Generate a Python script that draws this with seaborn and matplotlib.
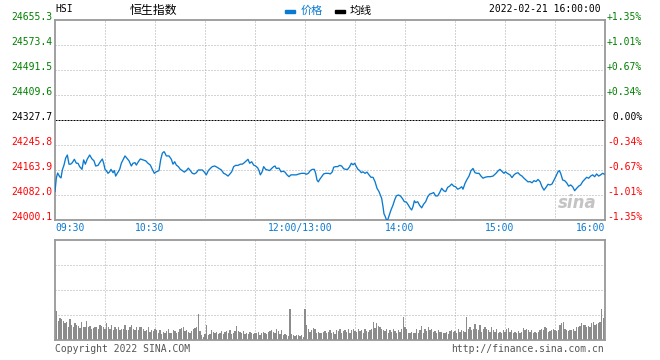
import numpy as np
import pandas as pd
import matplotlib
matplotlib.use("Agg")
import matplotlib.pyplot as plt
import matplotlib.transforms as mtransforms
from matplotlib.patches import Rectangle
import seaborn as sns

# y-axis levels (price) and the matching percent labels
price_levels = [24000.1, 24082.0, 24163.9, 24245.8, 24327.7, 24409.6, 24491.5, 24573.4, 24655.3]
pct_labels = ["-1.35%", "-1.01%", "-0.67%", "-0.34%", " 0.00%", "+0.34%", "+0.67%", "+1.01%", "+1.35%"]
prev_close = 24327.7

# trading minutes since 09:30 (lunch break removed)
time_ticks = [0, 60, 150, 210, 270, 330]
time_labels = ["09:30", "10:30", "12:00/13:00", "14:00", "15:00", "16:00"]

# intraday price
minutes = [
    0.0, 0.8, 1.6, 2.8, 3.6, 4.4, 5.4, 6.4, 7.4, 8.4, 9.4, 10.4, 11.6, 12.8, 13.8, 14.8,
    16.2, 17.2, 18.2, 19.4, 20.8, 22.2, 23.4, 24.4, 25.8, 27.2, 28.4, 29.2, 30.0, 30.8,
    31.8, 32.8, 33.6, 34.8, 35.6, 36.4, 37.6, 38.8, 39.8, 40.8, 42.0, 43.2, 44.4, 45.8,
    46.8, 48.0, 48.8, 50.0, 51.2, 52.8, 54.4, 55.8, 57.2, 58.4, 59.6, 60.8, 62.4, 63.4,
    64.4, 65.4,
    65.8, 66.8, 68.4, 69.8, 70.8, 71.8, 72.8, 74.0, 75.2, 76.4, 77.6, 78.8, 80.0, 81.2,
    82.4, 83.6, 84.8, 86.0, 87.2, 88.4, 89.6, 90.8, 92.0, 93.2, 94.4, 95.8, 97.2, 98.4,
    99.8, 101.2, 102.4, 103.8, 104.8, 106.0, 107.2, 108.4, 109.8, 111.2, 112.4, 113.6,
    114.8, 115.8, 116.8, 118.0, 119.2, 120.4, 121.6, 122.4, 123.2, 124.2, 125.2, 126.4,
    127.6, 128.8, 130.0, 131.2,
    132.0, 132.8, 134.4, 135.6, 136.8, 138.0, 139.2, 140.4, 141.6, 143.2, 144.8, 146.4,
    148.0, 149.6, 150.8, 152.0, 153.2, 154.4, 155.6, 156.4, 157.2, 158.0, 158.8, 160.0,
    161.2, 162.4, 164.0, 165.2, 166.4, 167.2, 168.4, 169.6, 170.8, 172.0, 173.2, 174.4,
    175.6, 176.8, 177.8, 178.8, 179.8, 180.8, 181.8, 182.8, 183.8, 184.8, 186.0, 187.2,
    188.4, 189.6, 190.8, 192.0, 193.2, 194.4, 195.2, 196.0, 196.8, 197.4,
    197.8, 198.8, 199.6, 200.4, 201.6, 202.8, 203.8, 204.8, 206.0, 207.2, 208.4, 209.6,
    210.8, 212.0, 213.2, 214.0, 214.8, 215.6, 216.4, 217.6, 218.8, 220.0, 221.2, 222.4,
    223.6, 224.8, 226.0, 227.2, 228.4, 229.6, 230.8, 232.0, 233.2, 234.4, 235.6, 236.8,
    238.0, 239.2, 240.4, 241.6, 242.8, 244.0, 244.8, 246.0, 247.2, 248.4, 249.6, 250.8,
    252.0, 253.2, 254.4, 255.6, 256.8, 258.0, 259.6, 261.2, 262.8,
    264.6, 266.0, 267.0, 268.4, 269.4, 270.2, 271.4, 273.0, 274.2, 275.4, 276.6, 277.8,
    279.0, 280.2, 281.4, 282.6, 283.8, 285.0, 286.2, 287.4, 288.6, 289.8, 291.0, 292.2,
    293.4, 294.6, 295.8, 297.0, 298.2, 299.4, 300.6, 301.8, 302.6, 303.4, 304.6, 305.8,
    307.0, 308.2, 309.4, 310.6, 311.8, 313.0, 314.2, 315.4, 316.6, 317.8, 319.0, 320.2,
    321.4, 322.6, 323.8, 325.0, 326.2, 327.4, 328.6, 329.6,
]
price = [
    24093, 24138, 24154, 24142, 24138, 24164, 24180, 24203, 24213, 24183, 24183, 24188,
    24199, 24186, 24186, 24175, 24166, 24197, 24183, 24200, 24213, 24200, 24194, 24177,
    24179, 24191, 24200, 24186, 24166, 24162, 24153, 24158, 24166, 24155, 24162, 24144,
    24155, 24166, 24186, 24197, 24210, 24202, 24194, 24177, 24186, 24188, 24180, 24191,
    24200, 24197, 24194, 24186, 24180, 24166, 24153, 24158, 24162, 24197, 24219, 24224,
    24221, 24210, 24210, 24199, 24183, 24191, 24180, 24175, 24166, 24162, 24157, 24162,
    24170, 24162, 24153, 24151, 24155, 24164, 24164, 24164, 24157, 24148, 24162, 24169,
    24175, 24177, 24173, 24169, 24164, 24153, 24150, 24144, 24150, 24158, 24175, 24179,
    24179, 24183, 24183, 24188, 24194, 24199, 24186, 24191, 24180, 24177, 24171, 24162,
    24148, 24157, 24175, 24166, 24164, 24162, 24169, 24175,
    24177, 24169, 24170, 24158, 24160, 24157, 24148, 24142, 24148, 24148, 24148, 24151,
    24153, 24153, 24150, 24153, 24162, 24166, 24166, 24153, 24131, 24125, 24133, 24142,
    24151, 24153, 24153, 24151, 24158, 24173, 24175, 24175, 24179, 24177, 24168, 24166,
    24166, 24175, 24186, 24181, 24186, 24175, 24166, 24162, 24155, 24158, 24153, 24157,
    24148, 24140, 24140, 24126, 24104, 24093, 24082, 24071, 24044, 24020,
    24016, 24002, 24000, 24013, 24033, 24049, 24066, 24079, 24082, 24079, 24071, 24060,
    24059, 24049, 24038, 24033, 24044, 24063, 24057, 24060, 24048, 24040, 24052, 24060,
    24076, 24085, 24087, 24090, 24079, 24079, 24090, 24104, 24096, 24093, 24107, 24111,
    24118, 24111, 24109, 24101, 24104, 24109, 24101, 24120, 24133, 24144, 24162, 24169,
    24155, 24153, 24153, 24144, 24137, 24140, 24142, 24142, 24144,
    24153, 24162, 24166, 24158, 24153, 24158, 24153, 24148, 24139, 24148, 24153, 24155,
    24148, 24144, 24137, 24131, 24125, 24126, 24122, 24129, 24126, 24133, 24126, 24109,
    24098, 24107, 24117, 24115, 24118, 24131, 24144, 24158, 24162, 24153, 24131, 24129,
    24122, 24111, 24115, 24109, 24096, 24104, 24111, 24115, 24126, 24133, 24140, 24137,
    24144, 24148, 24142, 24151, 24144, 24148, 24153, 24150,
]

# per-minute volume (relative units, panel top = 100)
vol_am = [
    30, 29, 19, 22, 21, 19, 17, 18, 13, 21, 15, 13, 17, 15, 14, 12, 18, 13, 13, 19,
    13, 14, 11, 12, 13, 13, 11, 15, 14, 13, 11, 17, 13, 11, 15, 10, 13, 11, 13, 10,
    11, 11, 15, 10, 10, 13, 15, 11, 10, 13, 10, 13, 13, 11, 9, 10, 13, 8, 10, 9,
    11, 10, 7, 10, 6, 8, 7, 9, 11, 7, 7, 10, 9, 7, 8, 11, 12, 13, 9, 10,
    8, 7, 9, 11, 12, 13, 26, 9, 5, 3, 6, 15,
    5, 6, 10, 8, 7, 8, 6, 7, 9, 6, 8, 9, 7, 10, 6, 7, 9, 14,
    9, 8, 7, 9, 6, 7, 6, 8, 7, 6, 7, 7, 8, 5, 7, 8, 7, 6, 8, 9,
    10, 8, 7, 11, 9, 6, 10, 5, 6, 5, 4, 31, 6, 5, 4, 5, 5, 4, 5, 3, 31,
]
vol_pm = [
    15, 11, 8, 10, 12, 11, 7, 8, 7, 7, 8, 9, 7, 8, 10, 7, 8, 6, 10, 9,
    11, 7, 9, 10, 8, 11, 7, 10, 11, 9, 8, 11, 9, 10, 7, 11, 9, 8, 10, 11,
    18, 12, 17, 14, 13, 11, 10, 9, 11, 7, 10, 8, 11, 9, 7, 10, 8, 11, 23, 13,
    11, 7, 7, 8, 7, 7, 11, 7, 10, 14, 7, 11, 9, 13, 10, 11, 8, 9, 7, 10,
    8, 8, 7, 7, 8, 6, 9, 10, 8, 9, 7, 11, 8, 10, 9, 8, 23, 11, 13, 10,
    11, 16, 11, 10, 15, 8, 11, 13, 11, 10, 8, 13, 10, 8, 11, 7, 8, 7, 10, 8,
    11, 12, 8, 10, 7, 8, 7, 9, 7, 8, 12, 10, 11, 10, 8, 10, 7, 8, 7, 8,
    10, 11, 10, 13, 12, 8, 9, 10, 11, 10, 9, 10, 15, 17, 18, 11, 10, 9, 10, 10,
    11, 9, 13, 13, 14, 17, 15, 15, 13, 14, 13, 17, 18, 15, 16, 17, 18, 31, 22, 29,
]

BLUE = "#0a7ad0"
GRID = "#aaaaaa"
FRAME = "#999999"
GREEN = "#008000"
RED = "#ff0000"

sns.set_style("white")
plt.rcParams["font.family"] = ["DejaVu Sans Mono", "Noto Sans CJK SC"]
plt.rcParams["font.size"] = 7

W, H = 660, 360
fig = plt.figure(figsize=(W / 100, H / 100), dpi=100)
ax = fig.add_axes([55 / W, 1 - 220 / H, 550 / W, 200 / H])
vax = fig.add_axes([55 / W, 1 - 340 / H, 550 / W, 100 / H])

px = 1 / 100  # one pixel in inches


def offset(dx, dy):
    return mtransforms.ScaledTranslation(dx * px, dy * px, fig.dpi_scale_trans)


# ---- price panel ----
for lvl in price_levels[1:-1]:
    if lvl == prev_close:
        ax.axhline(lvl, color="black", lw=0.72, ls=(0, (2, 1)), zorder=1)
    else:
        ax.axhline(lvl, color=GRID, lw=0.72, ls=(0, (1, 2)), zorder=1)
for t in range(30, 330, 30):
    ax.axvline(t, color=GRID, lw=0.72, ls=(0, (1, 2)), zorder=1)

sns.lineplot(x=minutes, y=price, ax=ax, color=BLUE, linewidth=0.95,
             estimator=None, sort=False, zorder=3)
ax.set_xlim(0, 330)
ax.set_ylim(price_levels[0], price_levels[-1])

left_tr = mtransforms.blended_transform_factory(ax.transAxes, ax.transData)
for lvl, pct in zip(price_levels, pct_labels):
    if lvl > prev_close:
        c = GREEN
    elif lvl < prev_close:
        c = RED
    else:
        c = "black"
    ax.text(0, lvl, f"{lvl:.1f}", color=c, ha="right", va="baseline",
            transform=left_tr + offset(-3, 0))
    ax.text(1, lvl, pct, color=c, ha="left", va="baseline",
            transform=left_tr + offset(2, 0))

bot_tr = mtransforms.blended_transform_factory(ax.transData, ax.transAxes)
for t, lab in zip(time_ticks, time_labels):
    if t == 0:
        ha, dx = "left", 0
    elif t == 330:
        ha, dx = "right", 0
    else:
        ha, dx = "center", -5
    ax.text(t, 0, lab, color=BLUE, ha=ha, va="top",
            transform=bot_tr + offset(dx, -2.5))

# ---- volume panel ----
vol = vol_am + vol_pm
vol_df = pd.DataFrame({"minute": np.arange(len(vol)), "volume": vol})
for lvl in [25, 50, 75]:
    vax.axhline(lvl, color=GRID, lw=0.72, ls=(0, (1, 2)), zorder=1)
for t in range(30, 330, 30):
    vax.axvline(t, color=GRID, lw=0.72, ls=(0, (1, 2)), zorder=1)
sns.barplot(data=vol_df, x="minute", y="volume", ax=vax, native_scale=True,
            color="#8c8c8c", saturation=1, errorbar=None, width=0.72,
            linewidth=0, zorder=2)
vax.set_xlim(0, 330)
vax.set_ylim(0, 100)

for a in (ax, vax):
    a.set_xlabel("")
    a.set_ylabel("")
    a.set_xticks([])
    a.set_yticks([])
    for s in a.spines.values():
        s.set_visible(True)
        s.set_color(FRAME)
        s.set_linewidth(1.3)

# ---- header / footer ----
def fy(y):
    return 1 - y / H


fig.text(55 / W, fy(12.5), "HSI", color="black", va="baseline")
fig.text(130 / W, fy(14), "恒生指数", color="black", va="baseline",
         fontsize=8.6, family=["Noto Sans CJK SC", "DejaVu Sans"])
fig.patches.append(Rectangle((285 / W, fy(13.3)), 10 / W, 3.3 / H,
                             transform=fig.transFigure, color=BLUE))
fig.text(301 / W, fy(14), "价格", color=BLUE, va="baseline",
         fontsize=8, family=["Noto Sans CJK SC", "DejaVu Sans"])
fig.patches.append(Rectangle((335 / W, fy(13.3)), 10 / W, 3.3 / H,
                             transform=fig.transFigure, color="black"))
fig.text(350 / W, fy(14), "均线", color="black", va="baseline",
         fontsize=8, family=["Noto Sans CJK SC", "DejaVu Sans"])
fig.text(601 / W, fy(12.5), "2022-02-21 16:00:00", color="black",
         ha="right", va="baseline")

fig.text(55 / W, fy(352), "Copyright 2022 SINA.COM", color="#555555", va="baseline")
fig.text(604 / W, fy(352), "http://finance.sina.com.cn", color="#555555",
         ha="right", va="baseline")

# faint sina watermark
fig.text(577 / W, fy(203), "sina", color="#c4c4c4", ha="center", va="center",
         fontsize=12, fontweight="bold", fontstyle="italic", family="DejaVu Sans",
         zorder=0)

fig.savefig("out.png", dpi=100)
